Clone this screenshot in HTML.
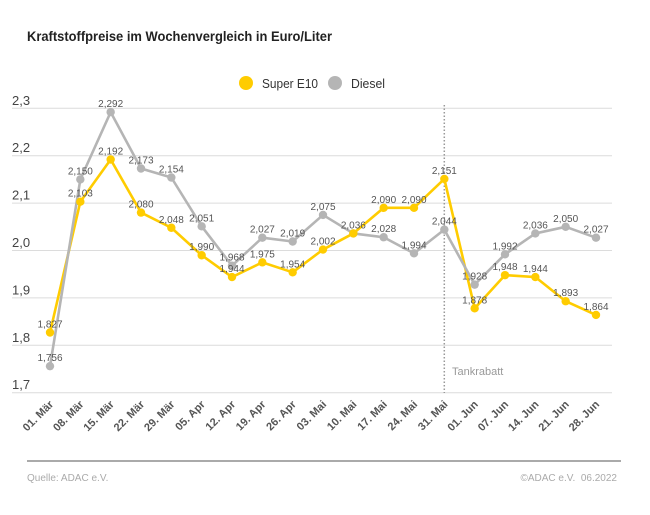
<!DOCTYPE html>
<html><head><meta charset="utf-8">
<style>
html,body{margin:0;padding:0;background:#fff;}
svg{display:block;}
text{font-family:"Liberation Sans",sans-serif;}
</style></head>
<body>
<svg width="650" height="515" viewBox="0 0 650 515" xmlns="http://www.w3.org/2000/svg">
<rect width="650" height="515" fill="#fff"/>
<text x="27" y="41" font-size="13.5" font-weight="bold" fill="#222" textLength="305" lengthAdjust="spacingAndGlyphs">Kraftstoffpreise im Wochenvergleich in Euro/Liter</text>

<!-- legend -->
<circle cx="246" cy="83" r="7" fill="#FFCC00"/>
<text x="262" y="88" font-size="13" fill="#333" textLength="56" lengthAdjust="spacingAndGlyphs">Super E10</text>
<circle cx="335" cy="83" r="7" fill="#B5B5B5"/>
<text x="351" y="88" font-size="13" fill="#333" textLength="34" lengthAdjust="spacingAndGlyphs">Diesel</text>

<!-- grid -->
<g stroke="#dcdcdc" stroke-width="1">
<line x1="12" x2="612" y1="108.3" y2="108.3"/>
<line x1="12" x2="612" y1="155.7" y2="155.7"/>
<line x1="12" x2="612" y1="203.1" y2="203.1"/>
<line x1="12" x2="612" y1="250.5" y2="250.5"/>
<line x1="12" x2="612" y1="297.9" y2="297.9"/>
<line x1="12" x2="612" y1="345.3" y2="345.3"/>
<line x1="12" x2="612" y1="392.7" y2="392.7"/>
</g>
<g font-size="13" fill="#444">
<text x="12" y="105">2,3</text>
<text x="12" y="152.2">2,2</text>
<text x="12" y="199.6">2,1</text>
<text x="12" y="247">2,0</text>
<text x="12" y="294.4">1,9</text>
<text x="12" y="341.8">1,8</text>
<text x="12" y="389.2">1,7</text>
</g>

<!-- dotted marker -->
<line x1="444.3" x2="444.3" y1="105" y2="393" stroke="#999" stroke-width="1.5" stroke-dasharray="1.5 2"/>
<text x="452" y="375" font-size="11" fill="#999">Tankrabatt</text>

<!-- lines -->
<polyline fill="none" stroke="#FFCC00" stroke-width="2.6" stroke-linejoin="round" points="50,332.5 80.33,201.7 110.67,159.5 141,212.6 171.33,227.75 201.67,255.24 232,277.04 262.33,262.35 292.67,272.3 323,249.55 353.33,233.44 383.67,207.84 414,207.84 444.33,178.93 474.67,308.33 505,275.15 535.33,277.04 565.67,301.22 596,314.96"/>
<polyline fill="none" stroke="#B5B5B5" stroke-width="2.6" stroke-linejoin="round" points="50,366.16 80.33,179.4 110.67,112.1 141,168.5 171.33,177.5 201.67,226.33 232,265.67 262.33,237.7 292.67,241.5 323,214.95 353.33,233.44 383.67,237.23 414,253.34 444.33,229.64 474.67,284.63 505,254.3 535.33,233.44 565.67,226.8 596,237.7"/>

<!-- diesel points -->
<g fill="#B5B5B5">
<circle cx="50" cy="366.16" r="4.2"/><circle cx="80.33" cy="179.4" r="4.2"/><circle cx="110.67" cy="112.1" r="4.2"/><circle cx="141" cy="168.5" r="4.2"/><circle cx="171.33" cy="177.5" r="4.2"/><circle cx="201.67" cy="226.33" r="4.2"/><circle cx="232" cy="265.67" r="4.2"/><circle cx="262.33" cy="237.7" r="4.2"/><circle cx="292.67" cy="241.5" r="4.2"/><circle cx="323" cy="214.95" r="4.2"/><circle cx="353.33" cy="233.44" r="4.2"/><circle cx="383.67" cy="237.23" r="4.2"/><circle cx="414" cy="253.34" r="4.2"/><circle cx="444.33" cy="229.64" r="4.2"/><circle cx="474.67" cy="284.63" r="4.2"/><circle cx="505" cy="254.3" r="4.2"/><circle cx="535.33" cy="233.44" r="4.2"/><circle cx="565.67" cy="226.8" r="4.2"/><circle cx="596" cy="237.7" r="4.2"/>
</g>
<!-- super points -->
<g fill="#FFCC00">
<circle cx="50" cy="332.5" r="4.2"/><circle cx="80.33" cy="201.7" r="4.2"/><circle cx="110.67" cy="159.5" r="4.2"/><circle cx="141" cy="212.6" r="4.2"/><circle cx="171.33" cy="227.75" r="4.2"/><circle cx="201.67" cy="255.24" r="4.2"/><circle cx="232" cy="277.04" r="4.2"/><circle cx="262.33" cy="262.35" r="4.2"/><circle cx="292.67" cy="272.3" r="4.2"/><circle cx="323" cy="249.55" r="4.2"/><circle cx="353.33" cy="233.44" r="4.2"/><circle cx="383.67" cy="207.84" r="4.2"/><circle cx="414" cy="207.84" r="4.2"/><circle cx="444.33" cy="178.93" r="4.2"/><circle cx="474.67" cy="308.33" r="4.2"/><circle cx="505" cy="275.15" r="4.2"/><circle cx="535.33" cy="277.04" r="4.2"/><circle cx="565.67" cy="301.22" r="4.2"/><circle cx="596" cy="314.96" r="4.2"/>
</g>

<!-- data labels -->
<g font-size="10" fill="#555" text-anchor="middle">
<text x="50" y="361">1,756</text>
<text x="80.33" y="174.4">2,150</text>
<text x="110.67" y="107.1">2,292</text>
<text x="141" y="163.5">2,173</text>
<text x="171.33" y="172.5">2,154</text>
<text x="201.67" y="221.3">2,051</text>
<text x="232" y="260.7">1,968</text>
<text x="262.33" y="232.7">2,027</text>
<text x="292.67" y="236.5">2,019</text>
<text x="323" y="210">2,075</text>
<text x="383.67" y="232.2">2,028</text>
<text x="414" y="248.3">1,994</text>
<text x="444.33" y="224.6">2,044</text>
<text x="474.67" y="279.6">1,928</text>
<text x="505" y="249.3">1,992</text>
<text x="535.33" y="228.4">2,036</text>
<text x="565.67" y="221.8">2,050</text>
<text x="596" y="232.7">2,027</text>

<text x="50" y="327.5">1,827</text>
<text x="80.33" y="196.7">2,103</text>
<text x="110.67" y="154.5">2,192</text>
<text x="141" y="207.6">2,080</text>
<text x="171.33" y="222.8">2,048</text>
<text x="201.67" y="250.2">1,990</text>
<text x="232" y="272">1,944</text>
<text x="262.33" y="257.4">1,975</text>
<text x="292.67" y="267.3">1,954</text>
<text x="323" y="244.6">2,002</text>
<text x="353.33" y="228.4">2,036</text>
<text x="383.67" y="202.8">2,090</text>
<text x="414" y="202.8">2,090</text>
<text x="444.33" y="173.9">2,151</text>
<text x="474.67" y="303.3">1,878</text>
<text x="505" y="270.2">1,948</text>
<text x="535.33" y="272">1,944</text>
<text x="565.67" y="296.2">1,893</text>
<text x="596" y="310">1,864</text>
</g>

<!-- x labels -->
<g font-size="11" font-weight="bold" fill="#555" text-anchor="end">
<text transform="translate(54,405) rotate(-45)">01. Mär</text>
<text transform="translate(84.33,405) rotate(-45)">08. Mär</text>
<text transform="translate(114.67,405) rotate(-45)">15. Mär</text>
<text transform="translate(145,405) rotate(-45)">22. Mär</text>
<text transform="translate(175.33,405) rotate(-45)">29. Mär</text>
<text transform="translate(205.67,405) rotate(-45)">05. Apr</text>
<text transform="translate(236,405) rotate(-45)">12. Apr</text>
<text transform="translate(266.33,405) rotate(-45)">19. Apr</text>
<text transform="translate(296.67,405) rotate(-45)">26. Apr</text>
<text transform="translate(327,405) rotate(-45)">03. Mai</text>
<text transform="translate(357.33,405) rotate(-45)">10. Mai</text>
<text transform="translate(387.67,405) rotate(-45)">17. Mai</text>
<text transform="translate(418,405) rotate(-45)">24. Mai</text>
<text transform="translate(448.33,405) rotate(-45)">31. Mai</text>
<text transform="translate(478.67,405) rotate(-45)">01. Jun</text>
<text transform="translate(509,405) rotate(-45)">07. Jun</text>
<text transform="translate(539.33,405) rotate(-45)">14. Jun</text>
<text transform="translate(569.67,405) rotate(-45)">21. Jun</text>
<text transform="translate(600,405) rotate(-45)">28. Jun</text>
</g>

<!-- footer -->
<line x1="27" x2="621" y1="461" y2="461" stroke="#aaa" stroke-width="2"/>
<text x="27" y="481" font-size="10" fill="#aaa">Quelle: ADAC e.V.</text>
<text x="617" y="481" font-size="10" fill="#aaa" text-anchor="end" xml:space="preserve">©ADAC e.V.  06.2022</text>
</svg>
</body></html>
